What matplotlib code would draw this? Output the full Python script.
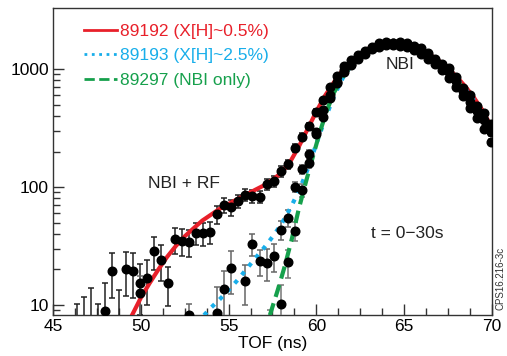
import numpy as np
import matplotlib
matplotlib.use("Agg")
import matplotlib.pyplot as plt
from matplotlib.ticker import FixedLocator, NullFormatter, FixedFormatter
from matplotlib.lines import Line2D

plt.rcParams['font.family'] = ['Liberation Sans', 'DejaVu Sans']

# ---- data: shot 89192 (X[H]~0.5%) ----
x_192 = [46.36, 46.76, 47.16, 47.56, 47.96, 48.36, 48.76, 49.16, 49.56, 49.96,
         50.36, 50.76, 51.16, 51.56, 51.96, 52.36, 52.76, 53.16, 53.56, 53.96,
         54.36, 54.76, 55.16, 55.56, 55.96, 56.36, 56.76, 57.16, 57.56, 57.96,
         58.36, 58.76, 59.16, 59.56, 59.96, 60.36, 60.76, 61.16, 61.56, 61.96,
         62.36, 62.76, 63.16, 63.56, 63.96, 64.36, 64.76, 65.16, 65.56, 65.96,
         66.36, 66.76, 67.16, 67.56, 67.96, 68.36, 68.76, 69.16, 69.56, 69.96]
y_192 = [4, 5, 5, 4, 8.9, 19.5, 5, 20, 19.5, 15.3,
         17.1, 28.8, 24, 15.3, 36, 35, 34.4, 41, 40.6, 41.9,
         58.7, 70, 67.3, 76.4, 86, 83.6, 82.7, 106, 113, 136,
         157, 215, 267, 328, 435, 548, 703, 865, 1062, 1184,
         1306, 1426, 1535, 1671, 1711, 1671, 1680, 1655, 1574, 1510,
         1364, 1225, 1100, 1021, 855, 689, 605, 489, 421, 344]
e_192 = [6.3, 6.8, 9, 6.3, 6.5, 8, 8.5, 8, 8, 7,
         7, 9, 8, 5.5, 9, 9, 9, 9, 9, 9,
         10, 10, 10, 10, 10, 10, 10, 12, 12, 14,
         14, 16, 18, 20, 22, 25, 28, 30, 35, 35,
         40, 40, 40, 45, 45, 45, 45, 45, 45, 40,
         40, 40, 35, 35, 30, 28, 26, 24, 22, 20]

# ---- data: shot 89193 (X[H]~2.5%) ----
x_193 = [49.96, 52.76, 54.36, 54.76, 55.16, 55.96, 56.36, 56.76, 57.16, 57.56,
         57.96, 58.36, 58.76, 59.16, 59.56, 59.96, 60.36, 60.76, 61.16, 61.56,
         61.96, 62.36, 62.76, 63.16, 63.56, 63.96, 64.36, 64.76, 65.16, 65.56,
         65.96, 66.36, 66.76, 67.16, 67.56, 67.96, 68.36, 68.76, 69.16, 69.56, 69.96]
y_193 = [12.6, 8.3, 8.6, 13.6, 20.5, 16, 32.9, 23.5, 22.9, 26,
         43.3, 54.6, 100, 141, 190, 294, 450, 605, 764, 979,
         1101, 1265, 1387, 1510, 1630, 1671, 1671, 1638, 1590, 1527,
         1426, 1313, 1184, 1052, 938, 789, 656, 521, 437, 370, 293]
e_193 = [5, 2, 5.5, 6, 8, 6, 7, 6, 7, 7,
         8, 9, 10, 12, 14, 16, 20, 25, 28, 30,
         32, 35, 38, 40, 42, 42, 42, 42, 42, 40,
         40, 38, 36, 34, 32, 30, 28, 26, 24, 22, 20]

# ---- data: shot 89297 (NBI only) ----
x_297 = [57.36, 57.96, 58.36, 58.76, 59.16, 59.56, 59.96, 60.36, 60.76, 61.16,
         61.56, 61.96, 62.36, 62.76, 63.16, 63.56, 63.96, 64.36, 64.76, 65.16,
         65.56, 65.96, 66.36, 66.76, 67.16, 67.56, 67.96, 68.36, 68.76, 69.16,
         69.56, 69.96]
y_297 = [5, 10.2, 23.1, 42.8, 94.4, 159, 284, 394, 564, 773,
         938, 1086, 1225, 1346, 1470, 1549, 1590, 1590, 1566, 1527,
         1455, 1346, 1225, 1094, 979, 838, 706, 589, 472, 387,
         310, 241]
e_297 = [4, 4.5, 6, 8, 12, 14, 18, 20, 24, 28,
         30, 32, 35, 38, 40, 40, 40, 40, 40, 40,
         38, 36, 34, 32, 30, 28, 26, 24, 22, 20,
         18, 16]

# ---- fit curves ----
fx_192 = [49.5, 50.0, 50.5, 51.0, 51.5, 52.0, 52.5, 53.0, 53.5, 54.0, 54.5, 55.0,
          55.5, 56.0, 56.5, 57.0, 57.5, 58.0, 58.5, 59.0, 59.5, 60.0, 60.5, 61.0,
          61.5, 62.0, 62.5, 63.0, 63.5, 64.0, 64.5, 65.0, 65.5, 66.0, 66.5, 67.0,
          67.5, 68.0, 68.5, 69.0, 69.5, 70.0]
fy_192 = [8.2, 11.5, 15.3, 20, 25.6, 31.7, 38.2, 44.6, 51.9, 58.3, 65.5, 71.8,
          79, 86, 94.4, 103, 115, 132, 163, 220, 310, 437, 597, 773,
          979, 1167, 1346, 1500, 1606, 1671, 1671, 1630, 1549, 1445, 1313, 1167,
          1012, 855, 706, 564, 437, 315]

fx_193 = [53.6, 54.0, 54.5, 55.0, 55.5, 56.0, 56.5, 57.0, 57.5, 58.0, 58.5, 59.0,
          59.5, 60.0, 60.5, 61.0, 61.5, 62.0, 62.5, 63.0, 63.5, 64.0, 64.5, 65.0,
          65.5, 66.0, 66.5, 67.0, 67.5, 68.0, 68.5, 69.0, 69.5, 70.0]
fy_193 = [8.2, 9.5, 11.2, 13.4, 16.2, 20, 24.7, 30.3, 37.8, 48.3, 65.5, 92.5,
          141, 233, 379, 589, 838, 1086, 1306, 1485, 1606, 1663, 1663, 1614,
          1530, 1420, 1282, 1135, 979, 822, 673, 538, 412, 300]

fx_297 = [57.35, 57.8, 58.2, 58.6, 59.0, 59.4, 59.8, 60.2, 60.6, 61.0, 61.5, 62.0,
          62.5, 63.0, 63.5, 64.0, 64.5, 65.0, 65.5, 66.0, 66.5, 67.0, 67.5, 68.0,
          68.5, 69.0, 69.5, 70.0]
fy_297 = [8.2, 13.4, 21.4, 36.3, 65.5, 110, 181, 293, 447, 631, 855, 1086,
          1290, 1470, 1590, 1648, 1648, 1598, 1516, 1405, 1266, 1110, 955, 798,
          648, 514, 387, 265]

labels = ['89192 (X[H]~0.5%)', '89193 (X[H]~2.5%)', '89297 (NBI only)']
RED, BLUE, GREEN = '#e8202a', '#18aeea', '#16a04c'

fig = plt.figure(figsize=(5.07, 3.56), dpi=100)
ax = fig.add_axes([53/507, 1-315/356, (492-53)/507, (315-8)/356])
ax.set_yscale('log')
ax.set_xlim(45, 70)
ax.set_ylim(8.23, 3290)

def draw_points(x, y, e, ecol):
    x = np.array(x); y = np.array(y); e = np.array(e)
    lo = np.minimum(e, 0.95 * y)
    ax.errorbar(x, y, yerr=[lo, e], fmt='none', ecolor=ecol, elinewidth=1.1,
                capsize=2.5, capthick=1.1, zorder=3)
    ax.plot(x, y, 'o', color='black', markersize=6.2, zorder=5, clip_on=True)

ax.plot(fx_192, fy_192, '-', color=RED, lw=3.0, zorder=4)
ax.plot(fx_193, fy_193, ':', color=BLUE, lw=3.0, zorder=4)
ax.plot(fx_297, fy_297, '--', color=GREEN, lw=3.0, dashes=(3, 1.6), zorder=4)

draw_points(x_192, y_192, e_192, '#222222')
draw_points(x_193, y_193, e_193, '#666666')
draw_points(x_297, y_297, e_297, '#777777')

# ticks
ax.yaxis.set_major_locator(FixedLocator([10, 100, 1000]))
ax.yaxis.set_major_formatter(FixedFormatter(['10', '100', '1000']))
minors = [9] + [m * 10 for m in range(2, 10)] + [m * 100 for m in range(2, 10)]
ax.yaxis.set_minor_locator(FixedLocator(minors))
ax.yaxis.set_minor_formatter(NullFormatter())
ax.xaxis.set_major_locator(FixedLocator([45, 50, 55, 60, 65, 70]))
ax.xaxis.set_minor_locator(FixedLocator([46.25, 47.5, 48.75, 51.25, 52.5, 53.75,
                                         56.25, 57.5, 58.75, 61.25, 62.5, 63.75,
                                         66.25, 67.5, 68.75]))
ax.tick_params(axis='both', which='major', direction='in', length=8, width=1,
               labelsize=12.5, color='#333333', pad=3)
ax.tick_params(axis='both', which='minor', direction='in', length=5, width=1,
               color='#333333')
ax.tick_params(top=False, right=False, which='both')
for s in ax.spines.values():
    s.set_linewidth(1.0)
    s.set_color('#333333')

ax.set_xlabel('TOF (ns)', fontsize=12.5, labelpad=1)
fig.text(-5/507, 1-137/356, 'Counts', rotation=90, fontsize=12.5,
         ha='center', va='center')

ax.text(64.75, 1100, 'NBI', fontsize=12.5, ha='center', va='center', color='#222222')
ax.text(52.45, 108, 'NBI + RF', fontsize=12.5, ha='center', va='center', color='#222222')
ax.text(65.2, 40, 't = 0\u221230s', fontsize=12.5, ha='center', va='center', color='#222222')
fig.text(500/507, 1-278/356, 'CPS16.216-3c', rotation=90, fontsize=7,
         ha='center', va='center', color='#333333')

handles = [Line2D([], [], color=RED, lw=2.0, ls='-'),
           Line2D([], [], color=BLUE, lw=2.0, ls=':'),
           Line2D([], [], color=GREEN, lw=2.0, ls='--')]
leg = ax.legend(handles, labels, loc='upper left', bbox_to_anchor=(0.035, 1.0),
                frameon=False, fontsize=12.5, handlelength=1.9, handletextpad=0.2,
                labelspacing=0.55, labelcolor=[RED, BLUE, GREEN], borderaxespad=0.5)

fig.savefig('out.png', dpi=100)
